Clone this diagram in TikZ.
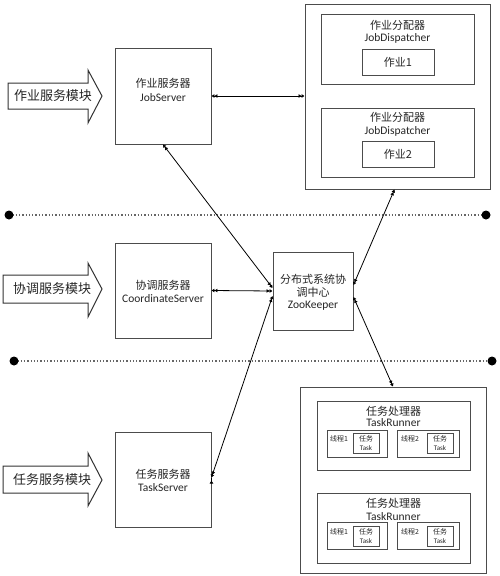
\documentclass[tikz,border=0pt]{standalone}
\usepackage{fontspec}
\setmainfont{Carlito}
\newfontfamily\cjk{Noto Sans CJK SC}
\usetikzlibrary{arrows.meta,calc}
\newcommand\fsz[1]{\fontsize{#1}{#1}\selectfont}
\tikzset{
  box/.style={draw=black!70, line width=0.9pt, inner sep=0pt},
  txt/.style={inner sep=0pt, text=black!85},
  zhA/.style={txt, font=\cjk\fsz{11}},
  enA/.style={txt, font=\fsz{11.5}},
  zhS/.style={txt, font=\cjk\fsz{7}},
  tkbox/.style={box, minimum width=26, minimum height=20, align=center, font=\cjk\fontsize{7}{9}\selectfont, text=black!85},
  conn/.style={draw=black, line width=0.8pt},
  dbl/.style={conn, arrows={{Latex[length=3pt,width=4pt] Latex[length=3pt,width=4pt]}-{Latex[length=3pt,width=4pt] Latex[length=3pt,width=4pt]}}},
  sgl/.style={conn, arrows={-Latex[length=3pt,width=4pt]}},
  blk/.style={draw=black!80, line width=1pt, fill=white},
  sep/.style={draw=black!60, dotted, line width=1.3pt},
  dot/.style={fill=black, draw=none},
}
\begin{document}
\begin{tikzpicture}[x=1pt,y=-1pt]
\useasboundingbox[fill=white] (0,0) rectangle (500,576);

% block arrows
\draw[blk] (8,83) -- (88,83) -- (88,70) -- (102,96) -- (88,123) -- (88,109) -- (8,109) -- cycle;
\node[txt, font=\cjk\fsz{13}] (m1) at (53,96) {作业服务模块};
\draw[blk] (3,275) -- (88,275) -- (88,263) -- (102,289) -- (88,317) -- (88,303) -- (3,303) -- cycle;
\node[txt, font=\cjk\fsz{13}] (m2) at (52,289) {协调服务模块};
\draw[blk] (3,466) -- (88,466) -- (88,453) -- (102,480) -- (88,506) -- (88,493) -- (3,493) -- cycle;
\node[txt, font=\cjk\fsz{13}] (m3) at (52,480) {任务服务模块};

% separators
\draw[sep] (9,215) -- (486,215);
\fill[dot] (9,215) circle (4.5);
\fill[dot] (486,215) circle (4.5);
\draw[sep] (14,361) -- (492,361);
\fill[dot] (14,361) circle (4.5);
\fill[dot] (492,361) circle (4.5);

% servers
\node[box, minimum width=96, minimum height=96] (js) at (163,96) {};
\node[zhA] (jst) at (163,83) {作业服务器};
\node[enA] (jse) at (163,98) {JobServer};
\node[box, minimum width=96, minimum height=95] (cs) at (163,290.5) {};
\node[zhA] (cst) at (163,285) {协调服务器};
\node[enA] (cse) at (163,299) {CoordinateServer};
\node[box, minimum width=96, minimum height=95] (ts) at (163,479.5) {};
\node[zhA] (tst) at (163,474) {任务服务器};
\node[enA] (tse) at (163,488) {TaskServer};

% zookeeper
\node[box, minimum width=80, minimum height=78] (zk) at (313,291) {};
\node[zhA] (zk1) at (313,279) {分布式系统协};
\node[zhA] (zk2) at (313,292.5) {调中心};
\node[enA] (zk3) at (313,305.5) {ZooKeeper};

% job dispatchers
\node[box, minimum width=185, minimum height=185] (jo) at (397.5,96.5) {};
\node[box, minimum width=153, minimum height=70] (jd1) at (397.5,49) {};
\node[zhA] (jd1t) at (397.5,25) {作业分配器};
\node[enA] (jd1e) at (397.5,38) {JobDispatcher};
\node[box, minimum width=72, minimum height=26, font=\cjk\fsz{11}, text=black!85] (j1) at (398,62) {作业1};
\node[box, minimum width=153, minimum height=69] (jd2) at (397.5,142.5) {};
\node[zhA] (jd2t) at (397.5,117) {作业分配器};
\node[enA] (jd2e) at (397.5,131) {JobDispatcher};
\node[box, minimum width=72, minimum height=26, font=\cjk\fsz{11}, text=black!85] (j2) at (398,154) {作业2};

% task runners
\node[box, minimum width=186, minimum height=186] (to) at (393,480) {};
\node[box, minimum width=153, minimum height=69] (tr1) at (393.5,435.5) {};
\node[zhA] (tr1t) at (393.5,411) {任务处理器};
\node[enA] (tr1e) at (393.5,423) {TaskRunner};
\node[box, minimum width=60, minimum height=27] (th11) at (357,443.5) {};
\node[zhS] (th11t) at (339,439) {线程1};
\node[tkbox] (tk11) at (366,443) {任务\\{\normalfont Task}};
\node[box, minimum width=62, minimum height=27] (th12) at (428,443.5) {};
\node[zhS] (th12t) at (410,439) {线程2};
\node[tkbox] (tk12) at (440,443) {任务\\{\normalfont Task}};

\node[box, minimum width=153, minimum height=70] (tr2) at (393.5,528) {};
\node[zhA] (tr2t) at (393.5,503) {任务处理器};
\node[enA] (tr2e) at (393.5,517) {TaskRunner};
\node[box, minimum width=60, minimum height=27] (th21) at (357,536) {};
\node[zhS] (th21t) at (339,532) {线程1};
\node[tkbox] (tk21) at (366,536) {任务\\{\normalfont Task}};
\node[box, minimum width=62, minimum height=27] (th22) at (428,536) {};
\node[zhS] (th22t) at (410,532) {线程2};
\node[tkbox] (tk22) at (440,536) {任务\\{\normalfont Task}};

% connectors
\draw[dbl] (js.east) -- (js.east -| jo.west);
\draw[dbl] (js.south) -- ($(zk.west)+(0,-3)$);
\draw[dbl] (cs.east) -- (zk.west);
\draw[dbl] ($(ts.east)+(0,-2)$) -- ($(zk.west)+(0,5)$);
\draw[dbl] ($(jo.south)+(-3,0)$) -- ($(zk.east)+(0,-6)$);
\draw[dbl] ($(zk.east)+(0,6)$) -- (to.north);
\draw[sgl] ($(ts.east)+(0,1)$) -- ($(ts.east)+(0,1)$ -| to.west);
\end{tikzpicture}
\end{document}
